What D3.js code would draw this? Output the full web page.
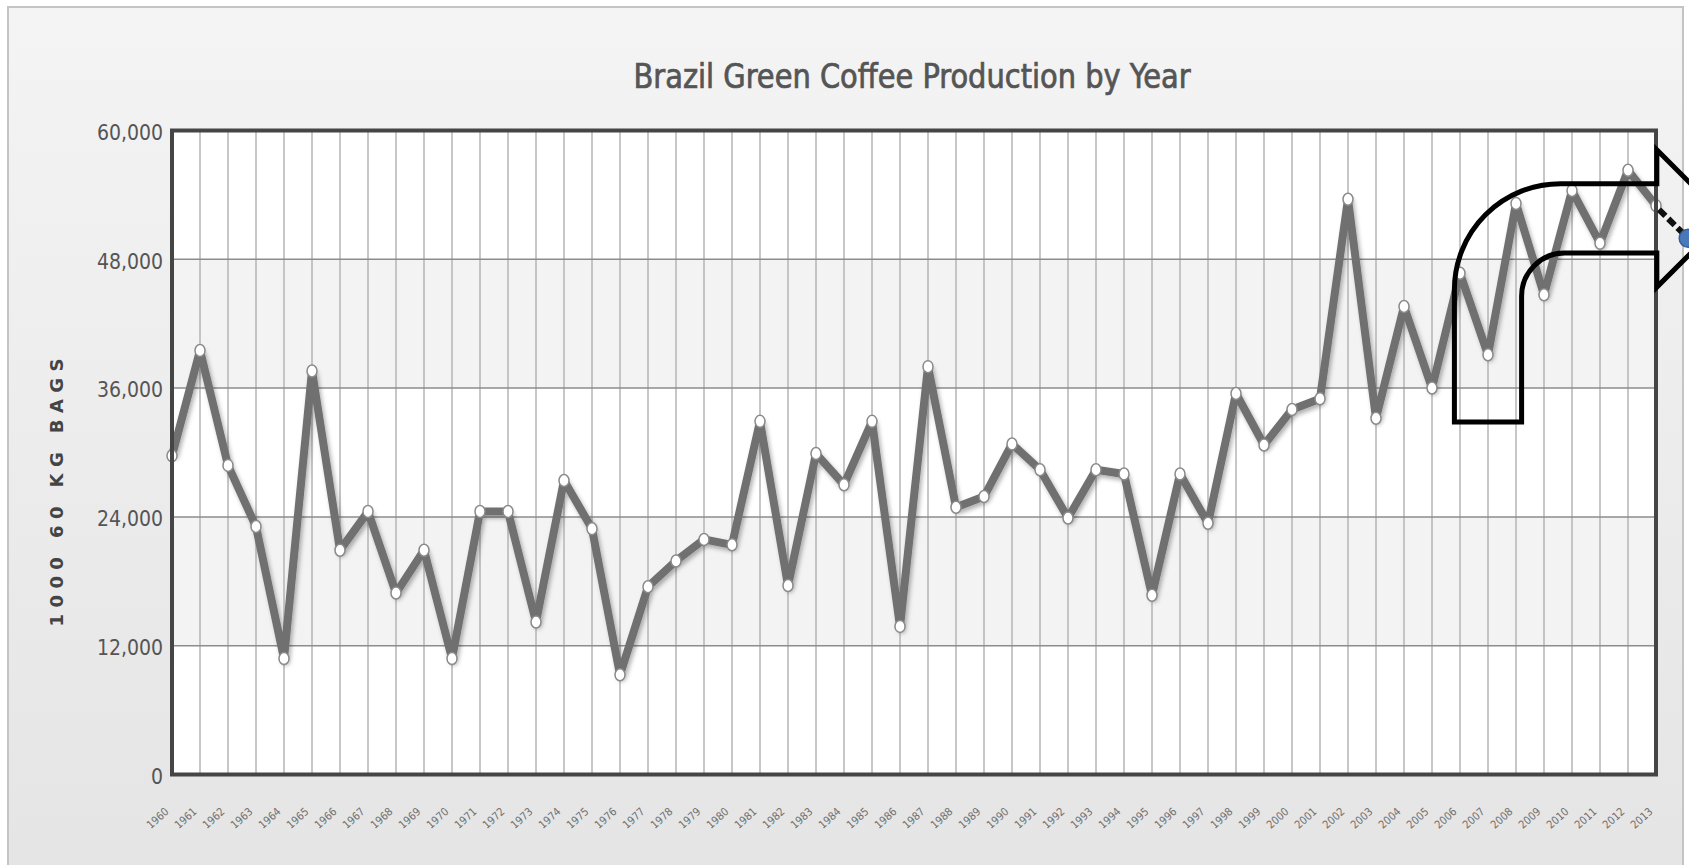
<!DOCTYPE html>
<html>
<head>
<meta charset="utf-8">
<script src="https://cdn.jsdelivr.net/npm/d3@7/dist/d3.min.js"></script>
<style>
	html, body { margin: 0; padding: 0; background: #fff; overflow: hidden; }
	svg { display: block; }
</style>
</head>
<body>
<div id="appCoffee"></div>
<script>
///////////////////////////////////////////////////////////////////////////
//////////////////////////// data /////////////////////////////////////////
///////////////////////////////////////////////////////////////////////////

const years = [
	1960, 1961, 1962, 1963, 1964, 1965, 1966, 1967, 1968, 1969,
	1970, 1971, 1972, 1973, 1974, 1975, 1976, 1977, 1978, 1979,
	1980, 1981, 1982, 1983, 1984, 1985, 1986, 1987, 1988, 1989,
	1990, 1991, 1992, 1993, 1994, 1995, 1996, 1997, 1998, 1999,
	2000, 2001, 2002, 2003, 2004, 2005, 2006, 2007, 2008, 2009,
	2010, 2011, 2012, 2013
];

// 1000 60 kg bags
const production = [
	29700, 39500, 28800, 23100, 10800, 37600, 20900, 24500, 16900, 20900,
	10800, 24500, 24500, 14200, 27400, 22900, 9300, 17500, 19900, 21900,
	21400, 32900, 17600, 29900, 27000, 32900, 13800, 38000, 24900, 25900,
	30800, 28400, 23900, 28400, 28000, 16700, 28000, 23400, 35500, 30700,
	34000, 35000, 53600, 33200, 43600, 36000, 46700, 39100, 53200, 44700,
	54400, 49500, 56300, 53000
];

const yTicks = [0, 12000, 24000, 36000, 48000, 60000];

const title = "Brazil Green Coffee Production by Year";
const yTitle = "1000 60 KG BAGS";

// bent arrow pasted over the chart, in year / bag units
const arrowYears = { left: 2005.8, inner: 2008.2, head: 2013.03 };
const arrowBags = { bottom: 32840, outer: 55040, inner: 48580, headTop: 58200, headBottom: 45410 };
const handle = { year: 2014.15, bags: 49950 };

///////////////////////////////////////////////////////////////////////////
//////////////////////////// drawing //////////////////////////////////////
///////////////////////////////////////////////////////////////////////////

const createChart = () => {
	const data = years.map((y, i) => ({ year: y, value: production[i] }));

	let dimensions = {
		width: 1689,
		height: 865,
		margin: { top: 130.5, left: 172, right: 33, bottom: 90.5 }
	};
	dimensions.boundedWidth = dimensions.width - dimensions.margin.left - dimensions.margin.right;
	dimensions.boundedHeight = dimensions.height - dimensions.margin.top - dimensions.margin.bottom;

	const svg = d3.select("#appCoffee").append("svg")
		.attr("width", dimensions.width)
		.attr("height", dimensions.height);

	const defs = svg.append("defs");

	// panel background
	const grad = defs.append("linearGradient")
		.attr("id", "panelGrad")
		.attr("x1", 0).attr("y1", 0).attr("x2", 0).attr("y2", 1);
	grad.append("stop").attr("offset", "0%").attr("stop-color", "#f4f4f4");
	grad.append("stop").attr("offset", "100%").attr("stop-color", "#e4e4e4");

	const shadow = defs.append("filter")
		.attr("id", "lineShadow")
		.attr("x", "-5%").attr("y", "-5%").attr("width", "110%").attr("height", "110%");
	shadow.append("feDropShadow")
		.attr("dx", 2).attr("dy", 3)
		.attr("stdDeviation", 2.2)
		.attr("flood-color", "#000")
		.attr("flood-opacity", 0.3);

	svg.append("rect")
		.attr("x", 8).attr("y", 7)
		.attr("width", 1675).attr("height", 900)
		.attr("fill", "url(#panelGrad)")
		.attr("stroke", "#c4c4c4")
		.attr("stroke-width", 2);

	//////////////////////////// scales ///////////////////////////////////////

	const xScale = d3.scaleLinear()
		.domain(d3.extent(years))
		.range([dimensions.margin.left, dimensions.margin.left + dimensions.boundedWidth]);

	const yScale = d3.scaleLinear()
		.domain([0, 60000])
		.range([dimensions.margin.top + dimensions.boundedHeight, dimensions.margin.top]);

	const x0 = xScale.range()[0];
	const x1 = xScale.range()[1];
	const yTop = yScale.range()[1];
	const yBottom = yScale.range()[0];

	//////////////////////////// bands + grid ////////////////////////////////

	const bands = d3.pairs(yTicks);
	svg.append("g")
		.selectAll("rect")
		.data(bands)
		.join("rect")
		.attr("x", x0)
		.attr("width", x1 - x0)
		.attr("y", (d) => yScale(d[1]))
		.attr("height", (d) => yScale(d[0]) - yScale(d[1]))
		.attr("fill", (d, i) => (i % 2 === 1 ? "#f3f3f3" : "#ffffff"));

	svg.append("g")
		.selectAll("line")
		.data(years)
		.join("line")
		.attr("x1", (d) => xScale(d))
		.attr("x2", (d) => xScale(d))
		.attr("y1", yTop)
		.attr("y2", yBottom)
		.attr("stroke", "#b4b4b4")
		.attr("stroke-width", 1.5);

	svg.append("g")
		.selectAll("line")
		.data(yTicks)
		.join("line")
		.attr("x1", x0)
		.attr("x2", x1)
		.attr("y1", (d) => yScale(d))
		.attr("y2", (d) => yScale(d))
		.attr("stroke", "#8c8c8c")
		.attr("stroke-width", 1.5);

	//////////////////////////// axes /////////////////////////////////////////

	const yAxis = svg.append("g")
		.attr("transform", `translate(${x0 - 9},0)`)
		.call(d3.axisLeft(yScale).tickValues(yTicks).tickFormat(d3.format(",")).tickSize(0).tickPadding(0));
	yAxis.select(".domain").remove();
	yAxis.selectAll("text")
		.attr("dy", "0.42em")
		.style("font-family", "'DejaVu Sans Condensed', 'DejaVu Sans'")
		.style("font-stretch", "condensed")
		.style("font-size", "21px")
		.attr("fill", "#555");

	const xAxis = svg.append("g")
		.attr("transform", `translate(0,${yBottom})`)
		.call(d3.axisBottom(xScale).tickValues(years).tickFormat(d3.format("d")).tickSize(0));
	xAxis.select(".domain").remove();
	xAxis.selectAll("text")
		.attr("y", 0)
		.attr("dy", 0)
		.attr("transform", () => `translate(-3,38) rotate(-42)`)
		.style("text-anchor", "end")
		.style("font-family", "'DejaVu Sans Condensed', 'DejaVu Sans'")
		.style("font-size", "11px")
		.attr("fill", "#707070");

	// y title
	svg.append("text")
		.attr("transform", `translate(63,${(yTop + yBottom) / 2 + 40}) rotate(-90)`)
		.attr("text-anchor", "middle")
		.attr("textLength", 268)
		.attr("lengthAdjust", "spacing")
		.style("font-family", "'DejaVu Sans'")
		.style("font-weight", "bold")
		.style("font-size", "18px")
		.attr("fill", "#444")
		.text(yTitle);

	// chart title
	svg.append("text")
		.attr("x", 912)
		.attr("y", 88)
		.attr("text-anchor", "middle")
		.attr("textLength", 557)
		.attr("lengthAdjust", "spacingAndGlyphs")
		.style("font-family", "'DejaVu Sans Condensed', 'DejaVu Sans'")
		.style("font-size", "33px")
		.attr("fill", "#555")
		.attr("stroke", "#555")
		.attr("stroke-width", 0.7)
		.text(title);

	//////////////////////////// line + markers ///////////////////////////////

	const lineGenerator = d3.line()
		.x((d) => xScale(d.year))
		.y((d) => yScale(d.value));

	svg.append("path")
		.datum(data)
		.attr("d", lineGenerator)
		.attr("fill", "none")
		.attr("stroke", "#707070")
		.attr("stroke-width", 8)
		.attr("stroke-linejoin", "round")
		.attr("filter", "url(#lineShadow)");

	svg.append("g")
		.selectAll("ellipse")
		.data(data)
		.join("ellipse")
		.attr("cx", (d) => xScale(d.year))
		.attr("cy", (d) => yScale(d.value))
		.attr("rx", 5)
		.attr("ry", 6)
		.attr("fill", "#fff")
		.attr("stroke", "#8a8a8a")
		.attr("stroke-width", 1.5);

	//////////////////////////// plot frame ///////////////////////////////////

	svg.append("rect")
		.attr("x", x0)
		.attr("y", yTop)
		.attr("width", x1 - x0)
		.attr("height", yBottom - yTop)
		.attr("fill", "none")
		.attr("stroke", "#454545")
		.attr("stroke-width", 4);

	//////////////////////////// bent arrow ///////////////////////////////////

	const xL = xScale(arrowYears.left);
	const xI = xScale(arrowYears.inner);
	const xH = xScale(arrowYears.head);
	const yB = yScale(arrowBags.bottom);
	const yO = yScale(arrowBags.outer);
	const yIn = yScale(arrowBags.inner);
	const yHT = yScale(arrowBags.headTop);
	const yHB = yScale(arrowBags.headBottom);
	const xT = xH + (yHB - yHT) / 2;
	const yT = (yHT + yHB) / 2;
	const ro = 106;
	const ri = 43;

	const arrow = d3.path();
	arrow.moveTo(xL, yB);
	arrow.lineTo(xL, yO + ro);
	arrow.arcTo(xL, yO, xL + ro, yO, ro);
	arrow.lineTo(xH, yO);
	arrow.lineTo(xH, yHT);
	arrow.lineTo(xT, yT);
	arrow.lineTo(xH, yHB);
	arrow.lineTo(xH, yIn);
	arrow.lineTo(xI + ri, yIn);
	arrow.arcTo(xI, yIn, xI, yIn + ri, ri);
	arrow.lineTo(xI, yB);
	arrow.closePath();

	// connector from the last point to the handle
	const last = data[data.length - 1];
	svg.append("line")
		.attr("x1", xScale(last.year) + 3)
		.attr("y1", yScale(last.value) + 4)
		.attr("x2", xScale(handle.year))
		.attr("y2", yScale(handle.bags))
		.attr("stroke", "#111")
		.attr("stroke-width", 6)
		.attr("stroke-dasharray", "9,4");

	svg.append("path")
		.attr("d", arrow.toString())
		.attr("fill", "none")
		.attr("stroke", "#000")
		.attr("stroke-width", 5)
		.attr("stroke-linejoin", "miter");

	svg.append("circle")
		.attr("cx", xScale(handle.year))
		.attr("cy", yScale(handle.bags))
		.attr("r", 9)
		.attr("fill", "#4a78b8")
		.attr("stroke", "#35609c")
		.attr("stroke-width", 1.5);
};

createChart();
</script>
</body>
</html>
